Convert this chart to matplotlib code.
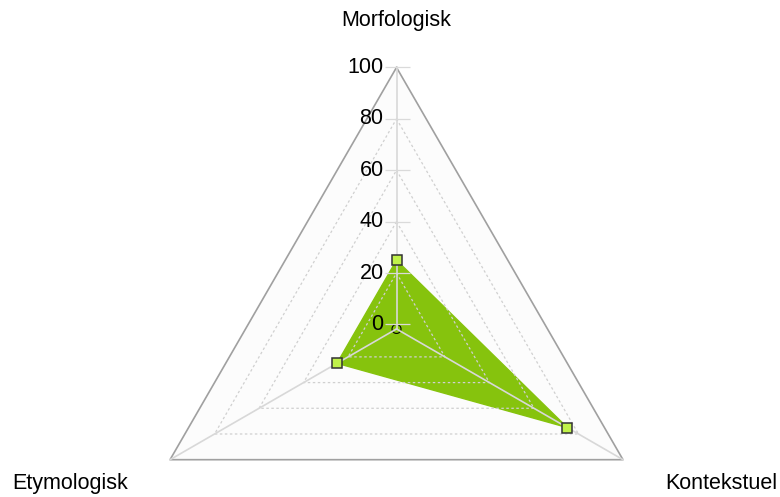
import numpy as np
import matplotlib
matplotlib.use('Agg')
import matplotlib.pyplot as plt

plt.rcParams['font.family'] = ['Liberation Sans', 'DejaVu Sans']

# data
categories = ['Morfologisk', 'Kontekstuel', 'Etymologisk']
values = [25, 75, 25]
levels = [0, 20, 40, 60, 80, 100]
rmax = 100
r_hole = 1.75   # small gap between the centre and the 0 ring

fill_color = '#86C30D'
marker_face = '#C0F24A'

n = len(categories)
angles = np.linspace(0, 2 * np.pi, n, endpoint=False)
angles_closed = np.append(angles, angles[0])
vals_closed = values + values[:1]

fig = plt.figure(figsize=(7.8, 4.97), dpi=100)
# polar axes: centre ~ (396.5, 329) px, radius ~ 261.5 px
ax = fig.add_axes([0.1731, -0.188, 0.6705, 1.0523], projection='polar')
ax.set_theta_offset(np.pi / 2)
ax.set_theta_direction(-1)
ax.set_rlim(0, rmax)
ax.set_rorigin(-r_hole)
ax.grid(False)
for sp in ax.spines.values():
    sp.set_visible(False)
ax.set_xticks([])
ax.set_yticks([])
ax.patch.set_alpha(0)

# faint background inside the outer triangle
ax.fill(angles_closed, [rmax] * (n + 1), color='#FCFCFC', zorder=0, clip_on=False)

# data polygon
ax.fill(angles_closed, vals_closed, color=fill_color, zorder=2, clip_on=False)

# dotted grid triangles
for lv in levels[1:-1]:
    ax.plot(angles_closed, [lv] * (n + 1), color='#D0D0D0', lw=0.9,
            ls=(0, (2, 2)), zorder=3, clip_on=False)
# outer triangle
ax.plot(angles_closed, [rmax] * (n + 1), color='#A0A0A0', lw=1.2, zorder=3,
        clip_on=False)

# spokes
for a in angles:
    ax.plot([a, a], [-r_hole, rmax], color='#D8D8D8', lw=1.2, zorder=3,
            clip_on=False)

# tick marks and labels on the vertical axis
ax.plot([0] * len(levels), levels, ls='none', marker='_', markersize=18,
        markeredgewidth=0.9, color='#DADADA', zorder=3, clip_on=False)
for lv in levels:
    ax.annotate(str(lv), xy=(0, lv), xytext=(-13, 0), textcoords='offset pixels',
                ha='right', va='center', fontsize=15.5, color='#000000', zorder=5)

# markers
ax.plot(angles, values, ls='none', marker='s', markersize=6.5,
        markerfacecolor=marker_face, markeredgecolor='#333333',
        markeredgewidth=1.1, zorder=4, clip_on=False)

# category labels
offsets = [(0, 47, 'center'), (42, -24, 'left'), (-42, -24, 'right')]
for a, name, (dx, dy, ha) in zip(angles, categories, offsets):
    ax.annotate(name, xy=(a, rmax), xytext=(dx, dy), textcoords='offset pixels',
                ha=ha, va='center', fontsize=15.5, color='#000000',
                annotation_clip=False)

fig.savefig('out.png', dpi=100)
